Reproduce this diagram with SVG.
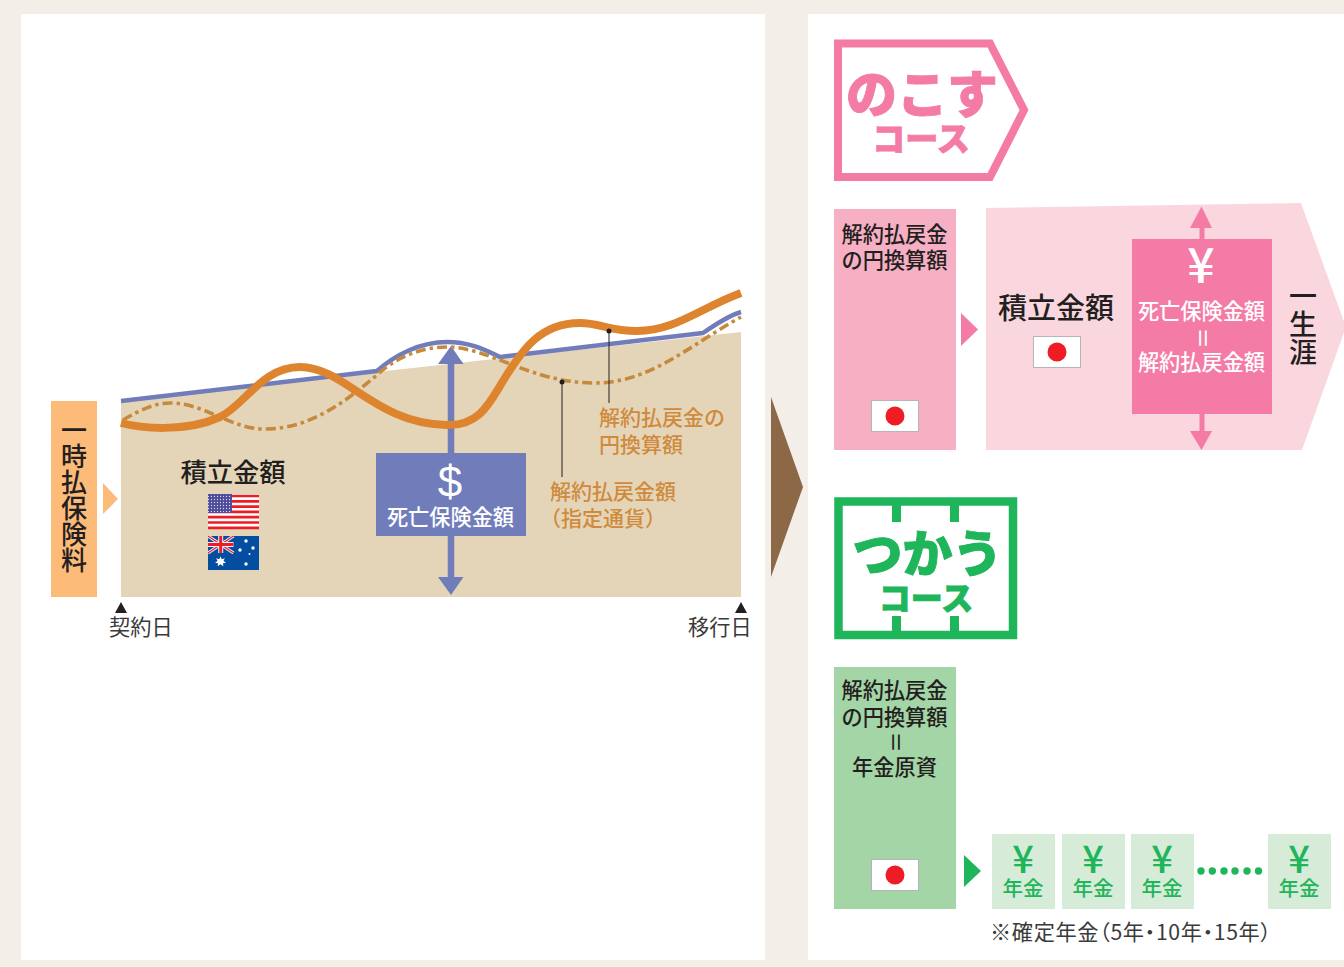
<svg xmlns="http://www.w3.org/2000/svg" width="1344" height="967" viewBox="0 0 1344 967">
<style>
text{font-family:"Noto Sans CJK JP","Noto Sans",sans-serif;fill:#231f20;font-size:21.200px;font-weight:500}
.m{text-anchor:middle}
.w{fill:#fff}
.o{fill:#cf8a3c;font-size:21px}
.v{writing-mode:vertical-rl;text-orientation:upright}
.b{font-weight:900;stroke-width:.9}
.p{fill:#f47ba5;stroke:#f47ba5}
.g{fill:#1fb55a}
.gb{stroke:#1fb55a}
.yen{font-family:"Noto Sans CJK JP",sans-serif;font-weight:500;text-anchor:middle}
.flag{fill:#fff;stroke:#b5b5b5;stroke-width:1}
.sun{fill:#ee1c25}
.ln{fill:none;stroke-linejoin:round}
</style>
<defs>
<pattern id="stars" width="3" height="3" patternUnits="userSpaceOnUse"><rect width="3" height="3" fill="#4c4a99"/><circle cx="1.5" cy="1.5" r=".65" fill="#d9d9ee"/></pattern>
<g id="jp"><rect class="flag" x=".5" y=".5" width="47" height="31"/><circle class="sun" cx="24" cy="16" r="9.500"/></g>
<g id="pen"><rect width="63" height="75" fill="#d6ebd8"/><text class="yen g" x="31" y="38.500" style="font-size:38px">¥</text><text class="g m" x="31" y="62" style="font-size:20.500px">年金</text></g>
</defs>
<rect width="1344" height="967" fill="#f3efe8"/>
<rect x="21" y="14" width="744" height="946" fill="#fff"/>
<rect x="808" y="14" width="536" height="946" fill="#fff"/>

<g id="node-area"><polygon points="121,400 741,332 741,597 121,597" fill="#e5d5b8"/></g>

<g id="connectors">
<path class="ln" stroke="#717dbb" stroke-width="4.500" d="M121,401 L377,371 C395,355 420,342 447,342 C470,342 485,350 500,357 L703,333 C715,325 727,316 741,312"/>
<path d="M451,364V577" stroke="#717dbb" stroke-width="6.500"/>
<polygon points="451,346 463.500,364 438,364" fill="#717dbb"/>
<polygon points="438,577 463.500,577 451,595" fill="#717dbb"/>
<path class="ln" stroke="#c78a3d" stroke-width="3.600" stroke-dasharray="10 4 3.500 4" d="M123,420 C140,410 155,403 170,403 C205,403 230,429 265,429 C310,429 345,402 377,375 C395,358 420,347 447,347 C490,347 530,383 595,383 C650,383 690,345 741,317"/>
<path class="ln" stroke="#de842f" stroke-width="8" d="M121,423 C140,428 185,433 220,417 C245,405 262,367 300,367 C345,367 375,424 447,425 C480,426 490,402 503,381 C522,350 540,323 580,323 C600,323 610,331 637,331 C675,331 700,308 741,293"/>
<path d="M609,331V403M562,382V477" stroke="#231f20" stroke-width="1"/>
<circle cx="609" cy="331" r="2.500" fill="#231f20"/>
<circle cx="562" cy="382" r="2.500" fill="#231f20"/>
<polygon points="103,483 118,499 103,514" fill="#fdbb79"/>
<polygon points="771,397 803,487 771,577" fill="#8d6847"/>
<polygon points="115,613 121,602 127,613" fill="#231f20"/>
<polygon points="735,613 741,602 747,613" fill="#231f20"/>
<polygon points="961,313 978,329.500 961,346" fill="#f47ba5"/>
<polygon points="964,855 981,871 964,887" fill="#1fb55a"/>
</g>

<g id="node-lump">
<rect x="51" y="401" width="46" height="196" fill="#fdbb79"/>
<text class="v" x="74" y="417" style="font-size:26px">一時払保険料</text>
</g>

<g id="node-accum">
<text class="m" x="233" y="482" style="font-size:26.300px">積立金額</text>
<g id="flag-us">
<rect x="208" y="494" width="51" height="35" fill="#fff"/>
<path d="M208,496h51M208,501.300h51M208,506.600h51M208,511.900h51M208,517.200h51M208,522.500h51M208,527.800h51" stroke="#ee1c25" stroke-width="2.700"/>
<rect x="208" y="494" width="24" height="19" fill="url(#stars)"/>
</g>
<g id="flag-au">
<rect x="208" y="536" width="51" height="34" fill="#044ea1"/>
<path d="M208,536L233.500,553M233.500,536L208,553" stroke="#f1f1f5" stroke-width="3.200"/>
<path d="M208,536L233.500,553M233.500,536L208,553" stroke="#ee1c25" stroke-width="1.200"/>
<path d="M220.700,536V553M208,544.500H233.500" stroke="#f1f1f5" stroke-width="5"/>
<path d="M220.700,536V553M208,544.500H233.500" stroke="#ee1c25" stroke-width="3"/>
<polygon points="220.500,556.500 221.800,559.300 224.800,558.200 223.500,561 226,562.700 223,563.200 223.300,566.200 220.500,564.300 217.700,566.200 218,563.200 215,562.700 217.500,561 216.200,558.200 219.200,559.300" fill="#fff"/>
<circle cx="246" cy="541" r="1.700" fill="#fff"/><circle cx="253" cy="548" r="1.700" fill="#fff"/>
<circle cx="240" cy="550" r="1.700" fill="#fff"/><circle cx="246" cy="564" r="1.700" fill="#fff"/>
<circle cx="249.500" cy="554" r="1" fill="#fff"/>
</g>
</g>

<g id="node-death">
<rect x="376" y="453" width="150" height="83" fill="#717dbb"/>
<text class="w m" x="450" y="497" style="font-family:'Liberation Sans',sans-serif;font-size:44px">$</text>
<text class="w m" x="450.500" y="524.500">死亡保険金額</text>
</g>

<g id="node-labels">
<text class="o" x="599" y="424.500">解約払戻金の</text>
<text class="o" x="599" y="451.500">円換算額</text>
<text class="o" x="550" y="498.500">解約払戻金額</text>
<text class="o" x="540" y="525.500">（指定通貨）</text>
<text x="109" y="634.500" style="fill:#3a3a3a;font-weight:400">契約日</text>
<text x="688" y="634.500" style="fill:#3a3a3a;font-weight:400">移行日</text>
</g>

<g id="node-nokosu-badge">
<polygon points="838,43.500 990,43.500 1024,110 990,177 838,177" fill="#fff" stroke="#f47ba5" stroke-width="8" stroke-linejoin="miter"/>
<text class="p b m" x="922" y="113" style="font-size:51px">のこす</text>
<text class="p b m" x="921" y="151" style="font-size:33px">コース</text>
</g>

<g id="node-nokosu-source">
<rect x="834" y="209" width="122" height="241" fill="#f7afc4"/>
<text class="m" x="894.500" y="241.500">解約払戻金</text>
<text class="m" x="894.500" y="267.500">の円換算額</text>
<use href="#jp" x="871" y="400"/>
</g>

<g id="node-nokosu-arrow">
<polygon points="986,208 1301,203 1346,327 1302,450 986,450" fill="#fad7df"/>
<text class="m" x="1056" y="319" style="font-size:29px">積立金額</text>
<use href="#jp" x="1033" y="336"/>
<text class="v" x="1303" y="282" style="font-size:28px">一生涯</text>
</g>

<g id="node-nokosu-death">
<path d="M1202,226V239M1202,414V433" stroke="#f47ba5" stroke-width="5"/>
<polygon points="1201.500,206.500 1212,228 1190,228" fill="#f47ba5"/>
<polygon points="1190,431 1212,431 1201.500,450" fill="#f47ba5"/>
<rect x="1132" y="239" width="140" height="175" fill="#f47ba5"/>
<text class="yen w" x="1201" y="283" style="font-size:48px;fill:#fff">¥</text>
<text class="w m" x="1201.500" y="318.500">死亡保険金額</text>
<text class="w m" transform="rotate(90 1201.500 338)" x="1201.500" y="345">＝</text>
<text class="w m" x="1201.500" y="369.500">解約払戻金額</text>
</g>

<g id="node-tsukau-badge">
<rect x="838.500" y="501.500" width="174.500" height="133.500" fill="#fff" stroke="#1fb55a" stroke-width="8.500"/>
<path d="M896.500,505V522M954.500,505V522M896.500,616V632M954.500,616V632" stroke="#1fb55a" stroke-width="9"/>
<text class="g gb b m" x="927.500" y="572" style="font-size:50px">つかう</text>
<text class="g gb b m" x="926" y="610" style="font-size:32px">コース</text>
</g>

<g id="node-tsukau-source">
<rect x="834" y="667" width="122" height="242" fill="#a3d5a6"/>
<text class="m" x="894.500" y="697.500">解約払戻金</text>
<text class="m" x="894.500" y="724.500">の円換算額</text>
<text class="m" transform="rotate(90 894.500 742)" x="894.500" y="749">＝</text>
<text class="m" x="894.500" y="774.500">年金原資</text>
<use href="#jp" x="871" y="859"/>
</g>

<g id="node-pension-1"><use href="#pen" x="992" y="834"/></g>
<g id="node-pension-2"><use href="#pen" x="1062" y="834"/></g>
<g id="node-pension-3"><use href="#pen" x="1131" y="834"/></g>
<g id="node-pension-4"><use href="#pen" x="1268" y="834"/></g>
<g id="node-dots" fill="#1fb55a">
<circle cx="1201" cy="871" r="3.700"/><circle cx="1212.300" cy="871" r="3.700"/><circle cx="1224" cy="871" r="3.700"/><circle cx="1235" cy="871" r="3.700"/><circle cx="1247" cy="871" r="3.700"/><circle cx="1258.500" cy="871" r="3.700"/>
</g>
<g id="node-note">
<text x="990" y="939.500" style="fill:#3a3a3a;font-weight:400;font-feature-settings:'palt';letter-spacing:.65px">※確定年金（5年・10年・15年）</text>
</g>
</svg>
